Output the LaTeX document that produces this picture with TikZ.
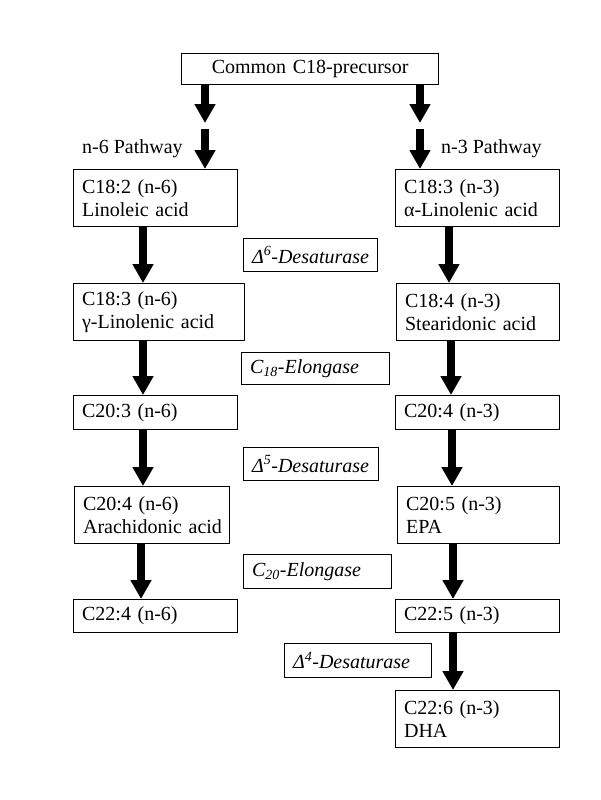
\documentclass[tikz,border=0pt]{standalone}
\usepackage{fontspec}
\setmainfont{Liberation Serif}
\usetikzlibrary{arrows.meta}
\newcommand\fs{\fontsize{20}{22.5}\selectfont}
\begin{document}
\begin{tikzpicture}[x=1pt,y=-1pt,
  box/.style={draw, line width=1.2pt, anchor=north west, inner xsep=8.5pt, inner ysep=0pt, align=left, font=\fs},
  enz/.style={box, font=\fs\itshape},
  lbl/.style={anchor=base west, inner sep=0pt, font=\fs},
  arr/.style={line width=7.5pt, -{Triangle[length=19pt,width=20pt]}}]
\useasboundingbox (0,0) rectangle (600,800);
% top
\node[box, align=center, text width=240pt, minimum height=31pt] (top) at (181,53) {Common C18-precursor};
% labels
\node[lbl] (n6) at (82,153) {n-6 Pathway};
\node[lbl] (n3) at (441,153) {n-3 Pathway};
% left column
\node[box, text width=147pt, minimum height=57pt] (L1) at (73,169) {C18:2 (n-6)\\\mbox{Linoleic acid}};
\node[box, text width=154pt, minimum height=57pt] (L2) at (73,283) {C18:3 (n-6)\\\mbox{γ-Linolenic acid}};
\node[box, text width=147pt, minimum height=34pt] (L3) at (73,395) {C20:3 (n-6)};
\node[box, text width=138pt, minimum height=57pt] (L4) at (74,486) {C20:4 (n-6)\\\mbox{Arachidonic acid}};
\node[box, text width=147pt, minimum height=33pt] (L5) at (73,599) {C22:4 (n-6)};
% right column
\node[box, text width=147pt, minimum height=57pt] (R1) at (395,169) {C18:3 (n-3)\\\mbox{α-Linolenic acid}};
\node[box, text width=146pt, minimum height=57pt] (R2) at (396,283) {C18:4 (n-3)\\\mbox{Stearidonic acid}};
\node[box, text width=147pt, minimum height=34pt] (R3) at (395,395) {C20:4 (n-3)};
\node[box, text width=145pt, minimum height=57pt] (R4) at (397,486) {C20:5 (n-3)\\EPA};
\node[box, text width=147pt, minimum height=33pt] (R5) at (395,599) {C22:5 (n-3)};
\node[box, text width=147pt, minimum height=57pt] (R6) at (395,690) {C22:6 (n-3)\\DHA};
% enzymes
\node[enz, text width=117pt, minimum height=33pt] (E1) at (243,238) {\mbox{Δ\textsuperscript{6}-Desaturase}};
\node[enz, text width=131pt, minimum height=32pt] (E2) at (241,352) {\mbox{C\textsubscript{18}-Elongase}};
\node[enz, text width=118pt, minimum height=33pt] (E3) at (243,447) {\mbox{Δ\textsuperscript{5}-Desaturase}};
\node[enz, text width=131pt, minimum height=34pt] (E4) at (243,554) {\mbox{C\textsubscript{20}-Elongase}};
\node[enz, text width=130pt, minimum height=34pt] (E5) at (284,643) {\mbox{Δ\textsuperscript{4}-Desaturase}};
% top arrows
\coordinate (lA) at (205,123); \coordinate (lB) at (205,129);
\coordinate (rA) at (420,123); \coordinate (rB) at (420,129);
\draw[arr] (top.south -| lA) -- (lA);
\draw[arr] (lB) -- (L1.north -| lB);
\draw[arr] (top.south -| rA) -- (rA);
\draw[arr] (rB) -- (R1.north -| rB);
% left column arrows
\coordinate (l1) at (143,0); \coordinate (l2) at (143,0);
\coordinate (l3) at (143,0); \coordinate (l4) at (141,0);
\draw[arr] (L1.south -| l1) -- (L2.north -| l1);
\draw[arr] (L2.south -| l2) -- (L3.north -| l2);
\draw[arr] (L3.south -| l3) -- (L4.north -| l3);
\draw[arr] (L4.south -| l4) -- (L5.north -| l4);
% right column arrows
\coordinate (r1) at (449,0); \coordinate (r2) at (451,0);
\coordinate (r3) at (452,0); \coordinate (r4) at (453,0);
\coordinate (r5) at (453,0);
\draw[arr] (R1.south -| r1) -- (R2.north -| r1);
\draw[arr] (R2.south -| r2) -- (R3.north -| r2);
\draw[arr] (R3.south -| r3) -- (R4.north -| r3);
\draw[arr] (R4.south -| r4) -- (R5.north -| r4);
\draw[arr] (R5.south -| r5) -- (R6.north -| r5);
\end{tikzpicture}
\end{document}
